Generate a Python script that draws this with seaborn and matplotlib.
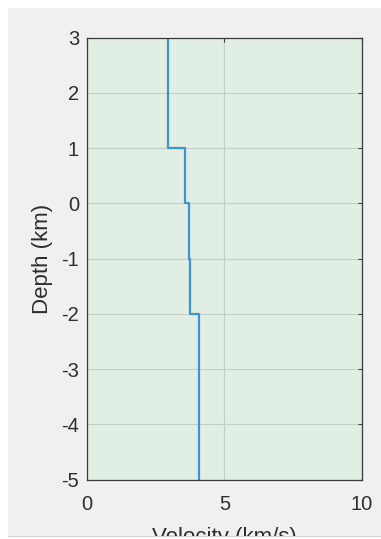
import matplotlib
matplotlib.use("Agg")
import matplotlib.pyplot as plt
import seaborn as sns
import pandas as pd
from matplotlib.patches import Rectangle

# Layered velocity model: each layer has a top, a bottom and a velocity
layer_top = [3, 1, 0, -1, -2]
layer_bottom = [1, 0, -1, -2, -5]
velocity = [2.95, 3.56, 3.72, 3.75, 4.08]

x_ticks = [0, 5, 10]
y_ticks = [3, 2, 1, 0, -1, -2, -3, -4, -5]

# Build the stepped profile path from the layers
vs, ds = [], []
for v, t, b in zip(velocity, layer_top, layer_bottom):
    vs += [v, v]
    ds += [t, b]
profile = pd.DataFrame({"Velocity": vs, "Depth": ds})

sns.set_theme(style="white")
plt.rcParams["font.family"] = ["Liberation Sans", "DejaVu Sans"]

W, H = 381, 539
fig = plt.figure(figsize=(W / 100, H / 100), dpi=100)
fig.patch.set_facecolor("white")

# Grey figure panel
fig.add_artist(Rectangle((8 / W, 1 - 536.5 / H), (W - 8) / W, (536.5 - 8) / H,
                         transform=fig.transFigure, facecolor="#f0f0f0",
                         edgecolor="none", zorder=0))

ax = fig.add_axes([87.3 / W, 1 - 479.5 / H, (361.7 - 87.3) / W, (479.5 - 37.7) / H])
ax.set_facecolor("#e1eee3")

sns.lineplot(data=profile, x="Velocity", y="Depth", sort=False, estimator=None,
             color="#3f93cf", linewidth=1.6, ax=ax)

ax.set_xlim(0, 10)
ax.set_ylim(-5, 3)
ax.set_xticks(x_ticks)
ax.set_yticks(y_ticks)
ax.set_xticklabels([str(t) for t in x_ticks])
ax.set_yticklabels([str(t) for t in y_ticks])
ax.grid(True, color="#c3cec5", linewidth=0.8)
ax.set_axisbelow(True)

for s in ax.spines.values():
    s.set_color("#3a3a3a")
    s.set_linewidth(0.9)
    s.set_visible(True)

ax.tick_params(axis="both", which="both", direction="in", length=3,
               width=0.8, color="#3a3a3a", top=True, right=True,
               labelsize=14.5, labelcolor="#2e2e2e")
ax.tick_params(axis="x", pad=11)
ax.tick_params(axis="y", pad=6)

ax.set_xlabel("Velocity (km/s)", fontsize=16, color="#2e2e2e", labelpad=9.5)
ax.set_ylabel("Depth (km)", fontsize=16, color="#2e2e2e", labelpad=6)

# White strip at the bottom edge, overlapping the x label
fig.add_artist(Rectangle((0, 0), 1, 2.5 / H, transform=fig.transFigure,
                         facecolor="white", edgecolor="none", zorder=20))
fig.add_artist(Rectangle((8 / W, 2.5 / H), (W - 8) / W, 0.8 / H,
                         transform=fig.transFigure, facecolor="#cfcfcf",
                         edgecolor="none", zorder=20))

fig.savefig("out.png", dpi=100)
